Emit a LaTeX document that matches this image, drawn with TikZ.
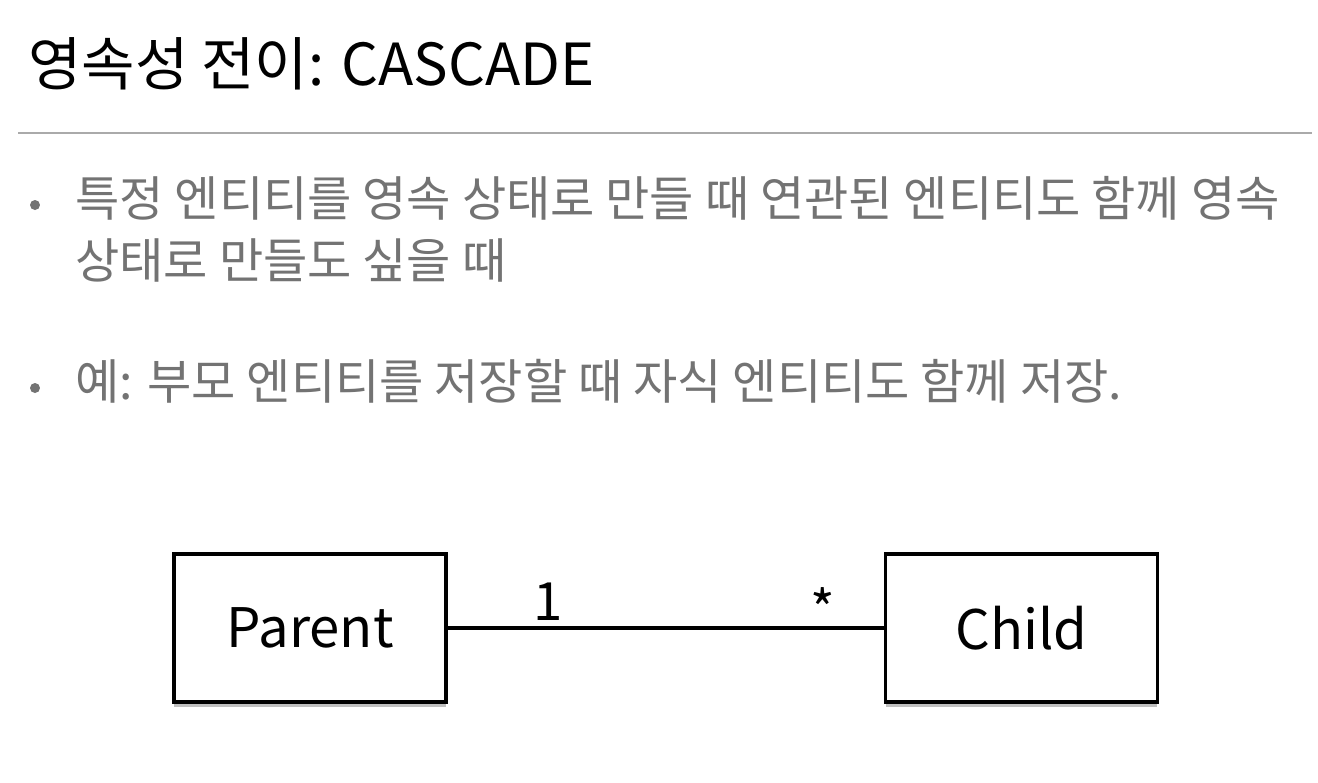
\documentclass[tikz,border=0pt]{standalone}
\usepackage{fontspec}
\setmainfont{Noto Sans CJK KR}
\usetikzlibrary{shadows}
\definecolor{bodygray}{HTML}{737373}
\definecolor{rulegray}{HTML}{AAAAAA}
\tikzset{
  heading/.style  = {anchor=base west, inner sep=0pt,
                     font=\fontsize{33}{40}\selectfont},
  item/.style     = {anchor=base west, inner sep=0pt, text=bodygray,
                     font=\fontsize{27.4}{32}\selectfont},
  dotmark/.style  = {circle, fill=bodygray, inner sep=0pt, minimum size=0.2cm},
  entity/.style   = {shape=rectangle, draw, line width=2pt, fill=white,
                     minimum width=5.44cm, minimum height=2.96cm,
                     font=\fontsize{31}{36}\selectfont,
                     drop shadow={opacity=0.5, shadow xshift=0pt, shadow yshift=-0.1cm}},
  mult/.style     = {font=\fontsize{30}{36}\selectfont},
  assoc/.style    = {draw, line width=2pt}
}
\begin{document}
\begin{tikzpicture}[x=0.02cm, y=-0.02cm]
  \useasboundingbox[fill=white] (0,0) rectangle (1318,782);

  \node[heading] (title) at (28,85) {영속성 전이: CASCADE};
  \draw[rulegray, line width=1pt] (18,133) -- (1312,133);

  \node[dotmark] (dot1) at (35,205) {};
  \node[item] (line1) at (75,216) {특정 엔티티를 영속 상태로 만들 때 연관된 엔티티도 함께 영속};
  \node[item] (line2) at (75,278) {상태로 만들도 싶을 때};
  \node[dotmark] (dot2) at (35,388) {};
  \node[item] (line3) at (75,399) {예: 부모 엔티티를 저장할 때 자식 엔티티도 함께 저장.};

  \node[entity] (parent) at (310,628) {Parent};
  \node[entity] (child) at (1021.5,628) {Child};
  \draw[assoc] (parent) -- node[mult, pos=0.23, above] (one) {1}
                           node[mult, pos=0.86, above, yshift=-0.18cm] (many) {*} (child);
\end{tikzpicture}
\end{document}
